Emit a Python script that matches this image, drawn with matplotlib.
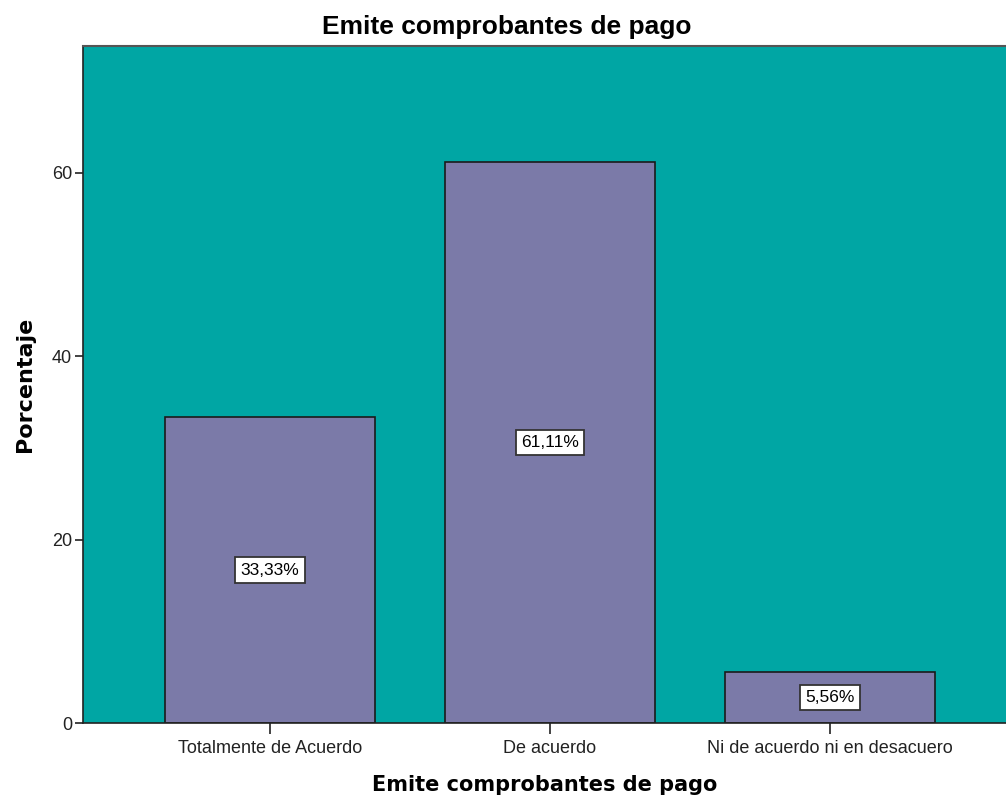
import matplotlib
matplotlib.use("Agg")
import matplotlib.pyplot as plt

# Data
categorias = ["Totalmente de Acuerdo", "De acuerdo", "Ni de acuerdo ni en desacuero"]
porcentajes = [33.33, 61.11, 5.56]
etiquetas = ["33,33%", "61,11%", "5,56%"]
yticks = [0, 20, 40, 60]

plt.rcParams['font.family'] = ['Liberation Sans', 'DejaVu Sans']

fig = plt.figure(figsize=(10.06, 7.98), dpi=100)
ax = fig.add_axes([83 / 1006, 1 - 723 / 798, (1006 - 83) / 1006, (723 - 46) / 798])
ax.set_facecolor('#00A6A4')

x = list(range(len(categorias)))
ax.bar(x, porcentajes, width=0.75, color='#7B7AA8', edgecolor='#1a1a1a', linewidth=1.2, zorder=2)

for xi, v, lab in zip(x, porcentajes, etiquetas):
    ax.text(xi, v / 2, lab, ha='center', va='center', fontsize=12.5, color='black', zorder=3,
            bbox=dict(boxstyle='square,pad=0.3', facecolor='white', edgecolor='#333333', linewidth=1.3))

ax.set_xlim(-0.668, 2.629)
ax.set_ylim(0, 73.8)
ax.set_xticks(x)
ax.set_xticklabels(categorias, fontsize=13)
ax.set_yticks(yticks)
ax.set_yticklabels([str(t) for t in yticks], fontsize=13)
ax.tick_params(axis='y', length=6, width=1.2, pad=2, colors='#222222')
ax.tick_params(axis='x', length=8, width=1.2, pad=4, colors='#222222')

for s in ['left', 'bottom']:
    ax.spines[s].set_color('#222222')
    ax.spines[s].set_linewidth(1.2)
ax.spines['top'].set_color('#555555')
ax.spines['top'].set_linewidth(1.5)
ax.spines['right'].set_visible(False)

fig.text(507 / 1006, 1 - 27 / 798, "Emite comprobantes de pago", fontsize=19, fontweight='bold',
         ha='center', va='center')
ax.set_xlabel("Emite comprobantes de pago", fontsize=15, fontweight='bold', labelpad=13,
              family='DejaVu Sans')
ax.set_ylabel("Porcentaje", fontsize=16, fontweight='bold', labelpad=12, family='DejaVu Sans')

fig.savefig("out.png", dpi=100)
